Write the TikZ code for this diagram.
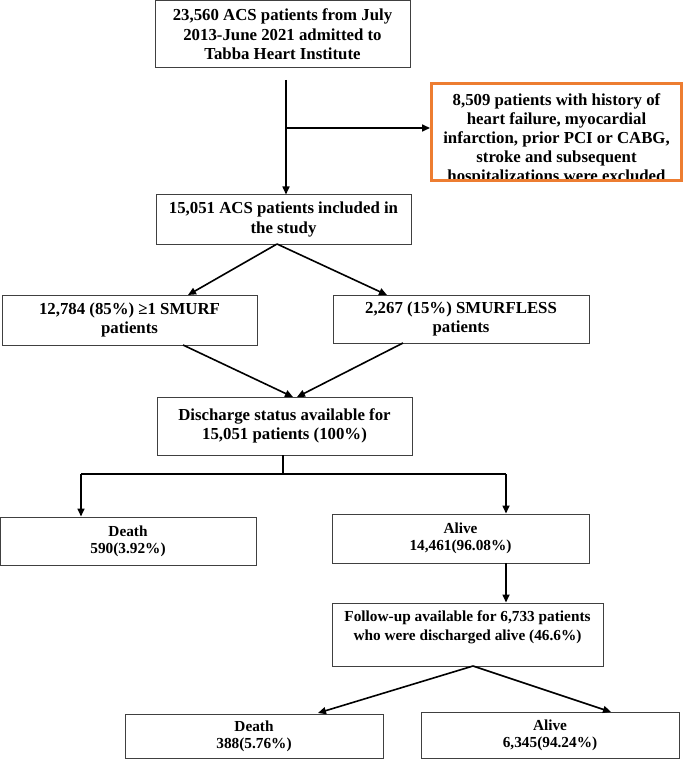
\documentclass[tikz,border=0pt]{standalone}
\usepackage{fontspec}
\setmainfont{Liberation Serif}
\usetikzlibrary{arrows.meta}
\definecolor{orangeb}{HTML}{ED7D31}
\tikzset{
  box/.style={draw=black!75, line width=1pt, fill=white, inner sep=0pt, align=center,
    font=\bfseries\fontsize{16.8}{19.5}\selectfont},
  smallbox/.style={box, font=\bfseries\fontsize{15.3}{17}\selectfont},
  txt/.style={inner sep=0pt, align=center},
  conn/.style={line width=1.6pt, black},
  arr/.style={conn, -{Triangle[length=8pt,width=7pt]}}
}
\begin{document}
\begin{tikzpicture}[x=1pt,y=-1pt]
\useasboundingbox (0,0) rectangle (685,759);
% boxes
\node[box, minimum width=255, minimum height=67] (top) at (282.5,34.5) {23,560 ACS patients from July\\2013-June 2021 admitted to\\Tabba Heart Institute};
\node[box, minimum width=255, minimum height=49] (incl) at (283.5,219.5) {15,051 ACS patients included in\\the study};
\node[box, minimum width=255, minimum height=50] (smurf) at (129.5,320) {12,784 (85\%) ≥1 SMURF\\patients};
\node[box, minimum width=256, minimum height=48] (sless) at (461,319) {2,267 (15\%) SMURFLESS\\patients};
\node[box, minimum width=255, minimum height=58] (dis) at (284.5,426) {Discharge status available for\\15,051 patients (100\%)};
\node[smallbox, minimum width=256, minimum height=48] (d1) at (128,541) {Death\\590(3.92\%)};
\node[smallbox, minimum width=257, minimum height=49] (a1) at (460.5,538.5) {Alive\\14,461(96.08\%)};
\node[box, minimum width=271, minimum height=63] (fu) at (467.5,634.5) {};
\node[txt, font=\bfseries\fontsize{15.3}{19}\selectfont] (fut) at (467.5,627.5) {Follow-up available for 6,733 patients\\who were discharged alive (46.6\%)};
\node[smallbox, minimum width=258, minimum height=44] (d2) at (254,736) {Death\\388(5.76\%)};
\node[smallbox, minimum width=258, minimum height=46] (a2) at (550,735) {Alive\\6,345(94.24\%)};
% orange excluded box (text cut at the bottom)
\begin{scope}
\clip (430,82) rectangle (683,179);
\node[txt, font=\bfseries\fontsize{16.8}{19}\selectfont] (exct) at (556.5,139.5) {8,509 patients with history of\\heart failure, myocardial\\infarction, prior PCI or CABG,\\stroke and subsequent\\hospitalizations were excluded};
\end{scope}
\node[draw=orangeb, line width=3pt, minimum width=250, minimum height=97, inner sep=0pt] (exc) at (556.5,132) {};
% connectors
\coordinate (s1) at (286,80);
\coordinate (br) at (286,128);
\draw[arr] (s1) -- (s1 |- incl.north);
\draw[arr] (br) -- (exc.west |- br);
\coordinate (v1) at (277,244);
\draw[arr] (v1) -- (188,295);
\draw[arr] (v1) -- (387,295);
\draw[arr] (183,345) -- (293,397);
\draw[arr] (403,343) -- (297,397);
\coordinate (h0) at (283,455);
\coordinate (h1) at (283,474);
\coordinate (hl) at (81,474);
\coordinate (hr) at (506,474);
\draw[conn] (h0) -- (h1);
\draw[conn] (hl) -- (hr);
\draw[arr] (hl) -- (hl |- d1.north);
\draw[arr] (hr) -- (hr |- a1.north);
\coordinate (a1b) at (506,563);
\draw[arr] (a1b) -- (a1b |- fu.north);
\coordinate (fub) at (473,666);
\draw[arr] (fub) -- (318,713);
\draw[arr] (fub) -- (611,712);
\end{tikzpicture}
\end{document}
